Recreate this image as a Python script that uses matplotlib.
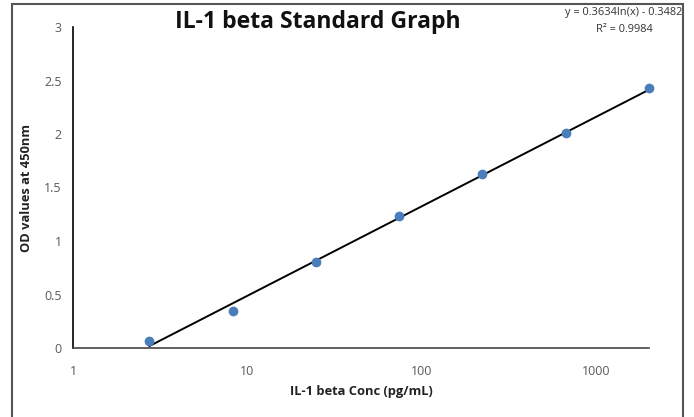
import numpy as np
import matplotlib
matplotlib.use("Agg")
import matplotlib.pyplot as plt
from matplotlib.patches import Rectangle

conc = [2.74, 8.23, 24.7, 74.1, 222.2, 666.7, 2000.0]
od = [0.065, 0.35, 0.80, 1.23, 1.63, 2.01, 2.43]
fit_a = 0.3634
fit_b = -0.3482
xticks = [1, 10, 100, 1000]
xticklabels = ["1", "10", "100", "1000"]
yticks = [0, 0.5, 1, 1.5, 2, 2.5, 3]
yticklabels = ["0", "0.5", "1", "1.5", "2", "2.5", "3"]

plt.rcParams['font.family'] = ['Open Sans', 'DejaVu Sans']

fig = plt.figure(figsize=(6.94, 4.17), dpi=100)
ax = fig.add_axes([73/694, 1-348/417, (649-73)/694, (348-27)/417])

xs = np.logspace(np.log10(min(conc)), np.log10(max(conc)), 200)
ax.plot(xs, fit_a*np.log(xs) + fit_b, color='black', lw=1.4, zorder=2, clip_on=False)
ax.plot(conc, od, 'o', color='#4a7ebb', markersize=6, zorder=3, clip_on=False)

ax.set_xscale('log')
ax.set_xlim(1, 2000)
ax.set_ylim(0, 3)
ax.set_xticks(xticks)
ax.set_xticklabels(xticklabels)
ax.xaxis.set_minor_locator(matplotlib.ticker.NullLocator())
ax.set_yticks(yticks)
ax.set_yticklabels(yticklabels)
ax.tick_params(length=0, labelsize=9, colors='#595959', pad=8)
ax.tick_params(axis='x', pad=12)
for s in ['top', 'right']:
    ax.spines[s].set_visible(False)
ax.spines['left'].set_color('black')
ax.spines['left'].set_linewidth(1.2)
ax.spines['bottom'].set_color('#444444')
ax.spines['bottom'].set_linewidth(1.2)

ax.set_xlabel("IL-1 beta Conc (pg/mL)", fontsize=9.3, fontweight='bold', color='#222222', labelpad=5)
ax.set_ylabel("OD values at 450nm", fontsize=9.3, fontweight='bold', color='#222222', labelpad=8)

fig.text(318/694, 1-22/417, "IL-1 beta Standard Graph", fontsize=16.6, fontweight='bold',
         ha='center', va='center', color='#111111')
fig.text(624/694, 1-13/417, "y = 0.3634ln(x) - 0.3482", fontsize=7.9, ha='center', va='center', color='#333333')
fig.text(624/694, 1-30/417, "R² = 0.9984", fontsize=7.9, ha='center', va='center', color='#333333')

fig.patches.append(Rectangle((12/694, -0.05), (683-12)/694, 1.05-4/417, transform=fig.transFigure,
                             fill=False, edgecolor='#555555', lw=1.5))

fig.savefig("out.png", dpi=100)
